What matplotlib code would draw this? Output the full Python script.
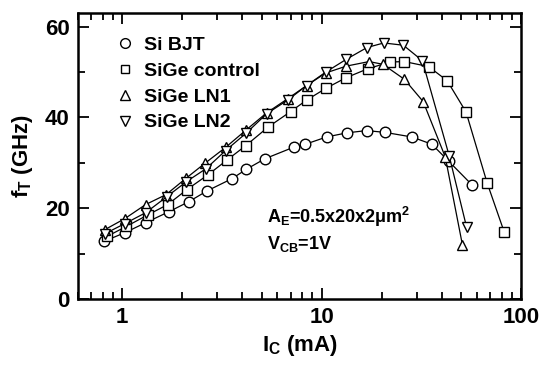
#!/usr/bin/env python3
"""fT versus collector current for Si BJT and SiGe HBTs."""

import matplotlib

matplotlib.use("Agg")
import matplotlib.pyplot as plt
from matplotlib.lines import Line2D
from matplotlib.ticker import FixedLocator, LogLocator, NullFormatter

INK = "#000000"

plt.rcParams.update({
    "font.family": ["Liberation Sans", "DejaVu Sans"],
    "font.weight": "bold",
    "axes.labelweight": "bold",
    "mathtext.fontset": "custom",
    "mathtext.rm": "Liberation Sans:bold",
    "mathtext.it": "Liberation Sans:bold",
    "mathtext.bf": "Liberation Sans:bold",
})

# Values (Ic in mA, fT in GHz)
si_bjt_ic = [0.81, 1.03, 1.31, 1.71, 2.15, 2.66, 3.55, 4.2, 5.2, 7.3, 8.3,
             10.6, 13.4, 16.8, 20.8, 28.3, 35.7, 43.5, 56.6]
si_bjt_ft = [12.7, 14.6, 16.8, 19.2, 21.4, 23.8, 26.5, 28.6, 30.9, 33.5, 34.1,
             35.7, 36.6, 37.1, 36.7, 35.7, 34.1, 30.3, 25.2]

ctrl_ic = [0.84, 1.05, 1.34, 1.69, 2.11, 2.7, 3.35, 4.17, 5.4, 7.0, 8.4,
           10.5, 13.2, 17.0, 22.0, 26.0, 34.4, 42.6, 53.0, 67.6, 82.3]
ctrl_ft = [13.8, 16.0, 18.5, 20.8, 24.1, 27.4, 30.6, 33.8, 37.9, 41.3, 43.8,
           46.4, 48.7, 50.7, 52.2, 52.3, 51.2, 48.1, 41.2, 25.6, 14.8]

ln1_ic = [0.82, 1.03, 1.31, 1.66, 2.09, 2.6, 3.3, 4.2, 5.3, 6.75, 8.4,
          10.5, 13.3, 17.3, 20.3, 26.0, 32.3, 41.7, 50.8]
ln1_ft = [15.3, 17.7, 20.8, 23.0, 26.6, 29.9, 33.4, 37.3, 41.0, 44.1, 47.0,
          49.8, 51.3, 52.3, 51.7, 48.4, 43.5, 31.3, 12.0]

ln2_ic = [0.82, 1.03, 1.31, 1.67, 2.09, 2.63, 3.3, 4.2, 5.3, 6.8, 8.4,
          10.5, 13.3, 16.9, 20.5, 25.7, 32.0, 43.6, 53.3]
ln2_ft = [14.4, 16.6, 19.0, 22.5, 25.8, 28.7, 32.7, 36.6, 40.8, 43.9, 47.0,
          50.0, 52.8, 55.4, 56.4, 55.9, 52.5, 31.6, 15.9]

labels = ["Si BJT", "SiGe control", "SiGe LN1", "SiGe LN2"]
markers = ["o", "s", "^", "v"]
x_ticks = [1, 10, 100]
y_ticks = [0, 20, 40, 60]

fig = plt.figure(figsize=(5.42, 3.73), dpi=100)
ax = fig.add_axes([78 / 542, 74 / 373, 443 / 542, 286 / 373])

series = [(si_bjt_ic, si_bjt_ft), (ctrl_ic, ctrl_ft),
          (ln1_ic, ln1_ft), (ln2_ic, ln2_ft)]
handles = []
for (xs, ys), mk, lab in zip(series, markers, labels):
    ms = 6.8 if mk == "s" else 7.6
    ax.plot(xs, ys, color=INK, lw=0.9, marker=mk, ms=ms, mfc="white",
            mec=INK, mew=1.0)
    handles.append(Line2D([], [], ls="none", marker=mk, ms=ms - 0.6,
                          mfc="white", mec=INK, mew=1.0, label=lab))

ax.set_xscale("log")
ax.set_xlim(0.6, 100)
ax.set_ylim(0, 63)
ax.xaxis.set_major_locator(FixedLocator(x_ticks))
ax.set_xticklabels([str(t) for t in x_ticks])
ax.xaxis.set_minor_locator(LogLocator(base=10, subs=range(2, 10)))
ax.xaxis.set_minor_formatter(NullFormatter())
ax.yaxis.set_major_locator(FixedLocator(y_ticks))
ax.yaxis.set_minor_locator(FixedLocator([10, 30, 50]))

for s in ax.spines.values():
    s.set_linewidth(1.8)
ax.tick_params(which="both", direction="in", top=True, right=True,
               width=1.3, labelsize=16, pad=6)
ax.tick_params(which="major", length=8)
ax.tick_params(which="minor", length=5)

ax.set_xlabel("I$_\\mathrm{C}$ (mA)", fontsize=16, labelpad=3)
ax.set_ylabel("f$_\\mathrm{T}$ (GHz)", fontsize=16, labelpad=7)

ax.legend(handles=handles, loc="upper left", bbox_to_anchor=(0.075, 0.945),
          frameon=False, fontsize=14, handlelength=0.6, handletextpad=0.7,
          labelspacing=0.42, borderaxespad=0)

ax.text(0.427, 0.266, "A$_\\mathrm{E}$=0.5x20x2μm$^\\mathrm{2}$",
        transform=ax.transAxes, fontsize=13, va="baseline")
ax.text(0.427, 0.175, "V$_\\mathrm{CB}$=1V",
        transform=ax.transAxes, fontsize=13, va="baseline")

fig.savefig("out.png", dpi=100)
